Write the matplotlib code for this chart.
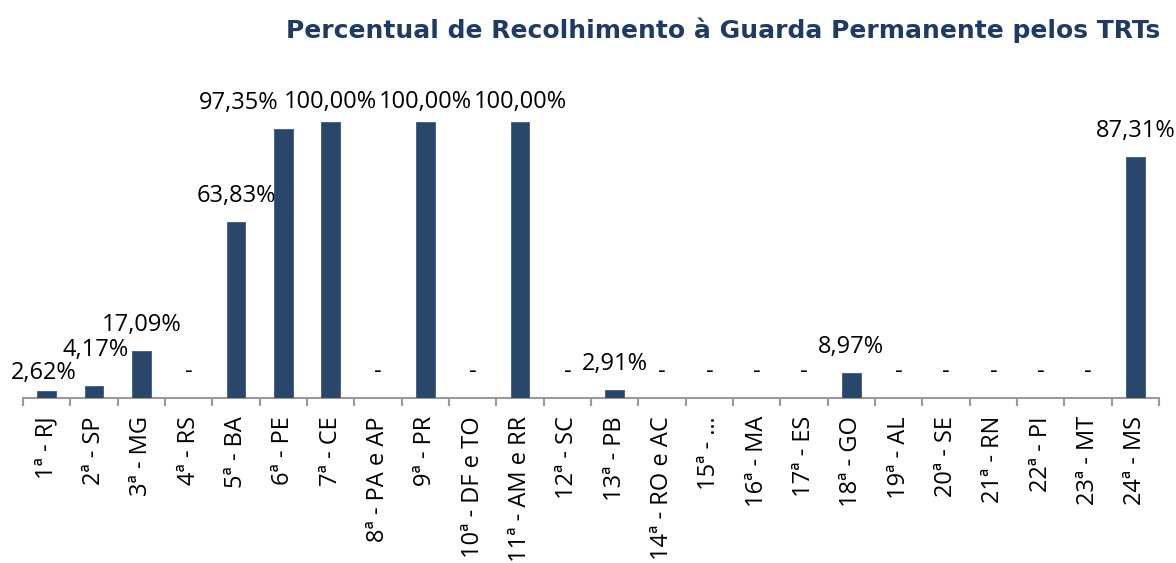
import matplotlib
matplotlib.use('Agg')
import matplotlib.pyplot as plt
import numpy as np

regioes = ['1ª - RJ', '2ª - SP', '3ª - MG', '4ª - RS', '5ª - BA', '6ª - PE',
           '7ª - CE', '8ª - PA e AP', '9ª - PR', '10ª - DF e TO',
           '11ª - AM e RR', '12ª - SC', '13ª - PB', '14ª - RO e AC',
           '15ª - …', '16ª - MA', '17ª - ES', '18ª - GO', '19ª - AL',
           '20ª - SE', '21ª - RN', '22ª - PI', '23ª - MT', '24ª - MS']
percentual = [2.62, 4.17, 17.09, 0, 63.83, 97.35, 100.00, 0, 100.00, 0,
              100.00, 0, 2.91, 0, 0, 0, 0, 8.97, 0, 0, 0, 0, 0, 87.31]

cor_barra = '#29476a'
cor_titulo = '#1f3b63'
fonte = 'Open Sans'

fig = plt.figure(figsize=(11.76, 5.63), dpi=100)
ax = fig.add_axes([23/1176, 1 - 398/563, 1136/1176, 276/563])

x = np.arange(len(regioes))
vals = np.array(percentual) / 100.0
ax.bar(x, vals, width=0.4, color=cor_barra, edgecolor='#3d5b7e', linewidth=0.6, zorder=3)

ax.set_xlim(-0.5, len(regioes) - 0.5)
ax.set_ylim(0, 1)

# rótulos de valor; alguns deslocados (pixels) para não se sobreporem
ajuste = {0: (-3, -8), 1: (2, 11), 5: (-45, 0)}
for i, v in enumerate(vals):
    txt = '-' if v == 0 else ('%.2f%%' % percentual[i]).replace('.', ',')
    y = min(v + 0.094, 1.072)
    ax.annotate(txt, (i, y), xytext=ajuste.get(i, (0, 0)), textcoords='offset pixels',
                ha='center', va='center', fontsize=17, family=fonte,
                color='black', annotation_clip=False)

for s in ['top', 'right', 'left']:
    ax.spines[s].set_visible(False)
ax.spines['bottom'].set_color('#9a9a9a')
ax.spines['bottom'].set_linewidth(1.5)
ax.set_yticks([])

# marcas entre categorias, nomes no centro
ax.set_xticks(np.arange(-0.5, len(regioes), 1.0))
ax.set_xticklabels([])
ax.tick_params(axis='x', which='major', length=6, width=1.5, color='#9a9a9a')
ax.set_xticks(x, minor=True)
ax.set_xticklabels(regioes, minor=True, rotation=90, fontsize=17, family=fonte,
                   ha='center', va='top')
ax.tick_params(axis='x', which='minor', length=0, pad=13)

fig.text(1160/1176, 1 - 30/563, 'Percentual de Recolhimento à Guarda Permanente pelos TRTs',
         ha='right', va='center', fontsize=18, fontweight='bold', color=cor_titulo,
         family='DejaVu Sans')

fig.savefig('out.png', dpi=100)
